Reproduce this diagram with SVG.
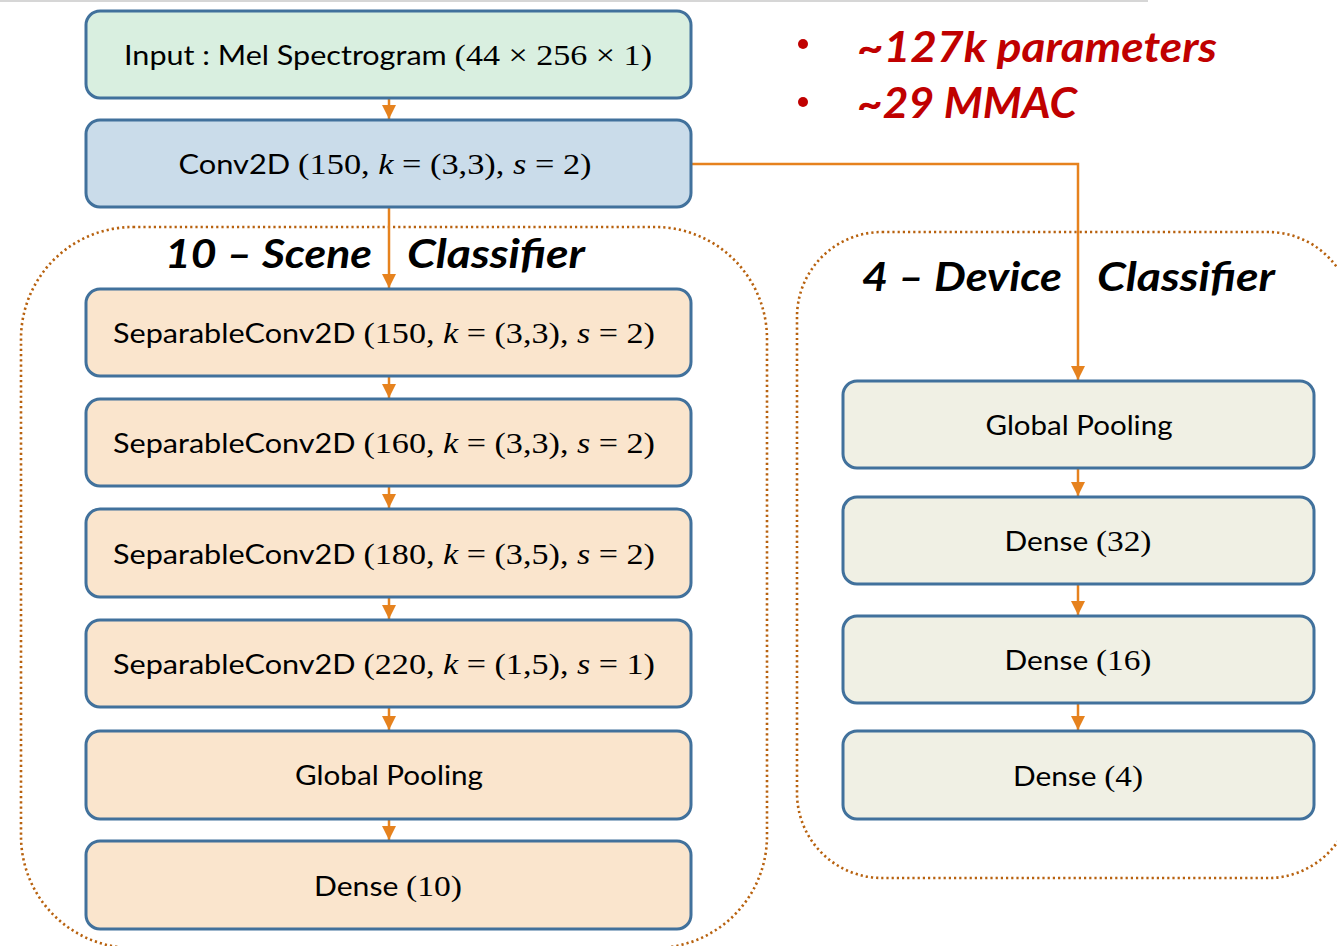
<svg xmlns="http://www.w3.org/2000/svg" width="1337" height="946" viewBox="0 0 1337 946">
<defs>
<style>
.box{stroke:#41719c;stroke-width:3}
.in{fill:#d9efe0}
.cv{fill:#cadcea}
.sc{fill:#fae5cd}
.dv{fill:#f0f0e4}
.grp{fill:none;stroke:#b8620f;stroke-width:2.6;stroke-dasharray:2.2 3}
.lbl{font-family:Lato,"Open Sans","Liberation Sans",sans-serif;font-size:26px;fill:#000;text-anchor:middle}
.m{font-family:"Liberation Serif","DejaVu Serif",serif;font-size:29px}
.i{font-style:italic}
.ttl{font-family:Lato,"Open Sans","Liberation Sans",sans-serif;font-size:40px;font-weight:bold;font-style:italic;fill:#000}
.red{font-family:Lato,"Open Sans","Liberation Sans",sans-serif;font-size:42px;font-weight:bold;font-style:italic;fill:#c00000}
.con{fill:none;stroke:#e6821e;stroke-width:2.5}
</style>
<marker id="ah" markerUnits="userSpaceOnUse" markerWidth="16" markerHeight="16" refX="14" refY="7" orient="auto">
<path d="M0,0 L14,7 L0,14 Z" fill="#e6821e"/>
</marker>
</defs>
<rect width="1337" height="946" fill="#fff"/>
<line x1="0" y1="1" x2="1148" y2="1" stroke="#c8c8c8" stroke-width="1.5"/>

<g id="scene-group">
<rect class="grp" x="21" y="227" width="746" height="721" rx="112"/>
<text class="ttl" x="165" y="268" textLength="207" lengthAdjust="spacingAndGlyphs">10 – Scene</text>
<text class="ttl" x="407" y="268" textLength="178" lengthAdjust="spacingAndGlyphs">Classifier</text>
</g>
<g id="device-group">
<rect class="grp" x="797" y="232" width="556" height="646" rx="85"/>
<text class="ttl" x="862" y="291" textLength="200" lengthAdjust="spacingAndGlyphs">4 – Device</text>
<text class="ttl" x="1097" y="291" textLength="178" lengthAdjust="spacingAndGlyphs">Classifier</text>
</g>

<g id="stats">
<circle cx="803" cy="44" r="5" fill="#c00000"/>
<circle cx="803" cy="102" r="5" fill="#c00000"/>
<text class="red" x="857" y="62" textLength="360" lengthAdjust="spacingAndGlyphs">~127k parameters</text>
<text class="red" x="857" y="118" textLength="220" lengthAdjust="spacingAndGlyphs">~29 MMAC</text>
</g>

<g id="connectors">
<line class="con" x1="389" y1="98" x2="389" y2="119" marker-end="url(#ah)"/>
<line class="con" x1="389" y1="207" x2="389" y2="288" marker-end="url(#ah)"/>
<polyline class="con" points="691,164 1078,164 1078,380" marker-end="url(#ah)"/>
<line class="con" x1="389" y1="376" x2="389" y2="398" marker-end="url(#ah)"/>
<line class="con" x1="389" y1="486" x2="389" y2="508" marker-end="url(#ah)"/>
<line class="con" x1="389" y1="597" x2="389" y2="619" marker-end="url(#ah)"/>
<line class="con" x1="389" y1="707" x2="389" y2="730" marker-end="url(#ah)"/>
<line class="con" x1="389" y1="819" x2="389" y2="840" marker-end="url(#ah)"/>
<line class="con" x1="1078" y1="468" x2="1078" y2="496" marker-end="url(#ah)"/>
<line class="con" x1="1078" y1="584" x2="1078" y2="615" marker-end="url(#ah)"/>
<line class="con" x1="1078" y1="703" x2="1078" y2="730" marker-end="url(#ah)"/>
</g>

<g id="input">
<rect class="box in" x="86" y="11" width="605" height="87" rx="14"/>
<text class="lbl" x="388" y="65" textLength="528" lengthAdjust="spacingAndGlyphs">Input : Mel Spectrogram <tspan class="m">(44 × 256 × 1)</tspan></text>
</g>
<g id="conv2d">
<rect class="box cv" x="86" y="120" width="605" height="87" rx="14"/>
<text class="lbl" x="385" y="174" textLength="413" lengthAdjust="spacingAndGlyphs">Conv2D <tspan class="m">(150, <tspan class="i">k</tspan> = (3,3), <tspan class="i">s</tspan> = 2)</tspan></text>
</g>
<g id="sepconv1">
<rect class="box sc" x="86" y="289" width="605" height="87" rx="14"/>
<text class="lbl" x="384" y="343" textLength="542" lengthAdjust="spacingAndGlyphs">SeparableConv2D <tspan class="m">(150, <tspan class="i">k</tspan> = (3,3), <tspan class="i">s</tspan> = 2)</tspan></text>
</g>
<g id="sepconv2">
<rect class="box sc" x="86" y="399" width="605" height="87" rx="14"/>
<text class="lbl" x="384" y="453" textLength="542" lengthAdjust="spacingAndGlyphs">SeparableConv2D <tspan class="m">(160, <tspan class="i">k</tspan> = (3,3), <tspan class="i">s</tspan> = 2)</tspan></text>
</g>
<g id="sepconv3">
<rect class="box sc" x="86" y="509" width="605" height="88" rx="14"/>
<text class="lbl" x="384" y="564" textLength="542" lengthAdjust="spacingAndGlyphs">SeparableConv2D <tspan class="m">(180, <tspan class="i">k</tspan> = (3,5), <tspan class="i">s</tspan> = 2)</tspan></text>
</g>
<g id="sepconv4">
<rect class="box sc" x="86" y="620" width="605" height="87" rx="14"/>
<text class="lbl" x="384" y="674" textLength="542" lengthAdjust="spacingAndGlyphs">SeparableConv2D <tspan class="m">(220, <tspan class="i">k</tspan> = (1,5), <tspan class="i">s</tspan> = 1)</tspan></text>
</g>
<g id="scene-pool">
<rect class="box sc" x="86" y="731" width="605" height="88" rx="14"/>
<text class="lbl" x="389" y="785" textLength="188" lengthAdjust="spacingAndGlyphs">Global Pooling</text>
</g>
<g id="scene-dense10">
<rect class="box sc" x="86" y="841" width="605" height="88" rx="14"/>
<text class="lbl" x="388" y="896" textLength="148" lengthAdjust="spacingAndGlyphs">Dense <tspan class="m">(10)</tspan></text>
</g>

<g id="device-pool">
<rect class="box dv" x="843" y="381" width="471" height="87" rx="14"/>
<text class="lbl" x="1079" y="435" textLength="187" lengthAdjust="spacingAndGlyphs">Global Pooling</text>
</g>
<g id="device-dense32">
<rect class="box dv" x="843" y="497" width="471" height="87" rx="14"/>
<text class="lbl" x="1078" y="551" textLength="147" lengthAdjust="spacingAndGlyphs">Dense <tspan class="m">(32)</tspan></text>
</g>
<g id="device-dense16">
<rect class="box dv" x="843" y="616" width="471" height="87" rx="14"/>
<text class="lbl" x="1078" y="670" textLength="147" lengthAdjust="spacingAndGlyphs">Dense <tspan class="m">(16)</tspan></text>
</g>
<g id="device-dense4">
<rect class="box dv" x="843" y="731" width="471" height="88" rx="14"/>
<text class="lbl" x="1078" y="786" textLength="130" lengthAdjust="spacingAndGlyphs">Dense <tspan class="m">(4)</tspan></text>
</g>
</svg>
